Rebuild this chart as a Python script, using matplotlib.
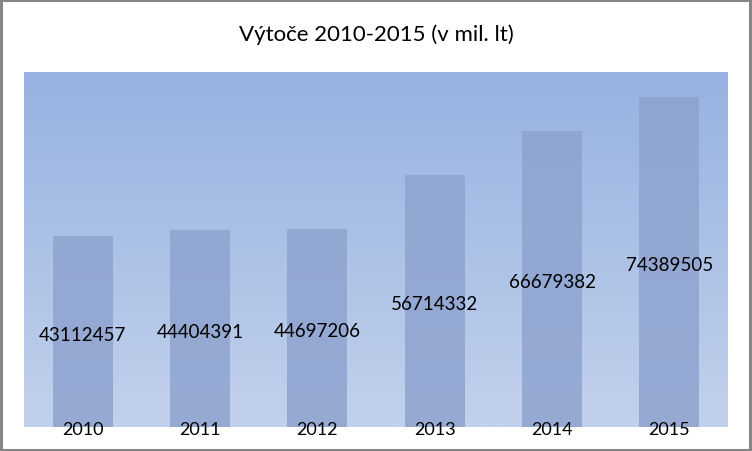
import numpy as np
import matplotlib
matplotlib.use('Agg')
import matplotlib.pyplot as plt
from matplotlib.colors import LinearSegmentedColormap
from matplotlib.patches import Rectangle

years = ['2010', '2011', '2012', '2013', '2014', '2015']
vytoce = [43112457, 44404391, 44697206, 56714332, 66679382, 74389505]

plt.rcParams['font.family'] = ['Lato', 'DejaVu Sans']

fig = plt.figure(figsize=(7.52, 4.52), dpi=100)
# plot area in pixels: x 24..728, y 73..428
ax = fig.add_axes([24 / 752, 1 - 428 / 452, 704 / 752, 355 / 452])

x = np.arange(len(years))
ax.set_xlim(-0.5, len(years) - 0.5)
ax.set_ylim(0, 80e6)

# gradient background
grad = LinearSegmentedColormap.from_list('bg', ['#c2d1ec', '#97b2e1'])
ax.imshow(np.linspace(0, 1, 256).reshape(-1, 1), cmap=grad, aspect='auto',
          extent=[-0.5, len(years) - 0.5, 0, 80e6], origin='lower', zorder=0)

bars = ax.bar(x, vytoce, width=0.51, color='#8ea3cf', alpha=0.85, zorder=2)

for b, v in zip(bars, vytoce):
    ax.text(b.get_x() + b.get_width() / 2, v / 2 - 0.6e6, str(v), ha='center', va='center',
            fontsize=13.5, color='black', zorder=3)

for xi, y in zip(x, years):
    ax.text(xi, -0.5e6, y, ha='center', va='center', fontsize=13,
            color='black', zorder=3, clip_on=False)

ax.set_xticks([])
ax.set_yticks([])
for s in ax.spines.values():
    s.set_visible(False)

fig.text(0.5, 1 - 35 / 452, 'Výtoče 2010-2015 (v mil. lt)', ha='center', va='center',
         fontsize=16)

# outer border
fig.patches.append(Rectangle((0.0015, 0.003), 0.996, 0.994, transform=fig.transFigure,
                             fill=False, edgecolor='#868686', linewidth=2.2))

fig.savefig('out.png', dpi=100)
